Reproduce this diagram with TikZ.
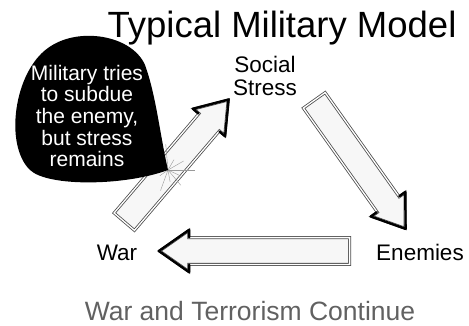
\documentclass[tikz,border=0pt]{standalone}
\usepackage{fontspec}
\setmainfont{Liberation Sans}
\usetikzlibrary{shapes.arrows}
\begin{document}
\begin{tikzpicture}[x=1pt,y=-1pt,
  blockarrow/.style={single arrow,draw=black!70,double=white,double distance=1.3pt,line width=0.8pt,fill=black!3,
    inner xsep=0pt,inner ysep=13pt,single arrow head extend=7pt,single arrow tip angle=70,anchor=tail},
  headline/.style={line width=2.4pt,line join=round,line cap=round},
  lbl/.style={font=\fontsize{22.5}{23}\selectfont,anchor=base,align=center}]
\useasboundingbox (0,0) rectangle (469,325);
\node[font=\fontsize{36.5}{40}\selectfont,anchor=base] (title) at (282,37) {Typical Military Model};
\node[lbl] (stress) at (265,95) {Social\\Stress};
\node[lbl] (war) at (117,260) {War};
\node[lbl] (enemies) at (420,260) {Enemies};
\node[font=\fontsize{26.5}{28}\selectfont,anchor=base,text=black!62] (continue) at (250,320) {War and Terrorism Continue};
% the three block arrows
\coordinate (upTail) at (124,222);
\coordinate (downTail) at (314,100);
\coordinate (leftTail) at (350,251);
\node[blockarrow,minimum height=160pt,rotate=49.5] (up) at (upTail) {};
\node[blockarrow,minimum height=157pt,rotate=-54.6] (down) at (downTail) {};
\node[blockarrow,minimum height=190pt,rotate=180] (left) at (leftTail) {};
\foreach \a in {up,down,left}
  \draw[headline] (\a.before head) -- (\a.before tip) -- (\a.tip) -- (\a.after tip) -- (\a.after head);
% burst where the bubble points
\coordinate (burst) at (168,170);
\foreach \ang/\len in {0/27,25/14,50/20,80/12,110/22,145/10,170/36,200/14,235/18,265/26,300/12,330/18}
  \draw[black!40,thin] (burst) -- ++(\ang:\len);
% speech bubble
\fill[black] (burst) .. controls (160,135) and (156,95) .. (145,65) .. controls (132,35) and (78,26) .. (48,48)
  .. controls (14,72) and (4,145) .. (30,170) .. controls (48,187) and (125,186) .. (burst);
\node[text=white,align=center,font=\fontsize{21}{21.7}\selectfont] (bubble) at (87,116) {Military tries\\to subdue\\the enemy,\\but stress\\remains};
\end{tikzpicture}
\end{document}
